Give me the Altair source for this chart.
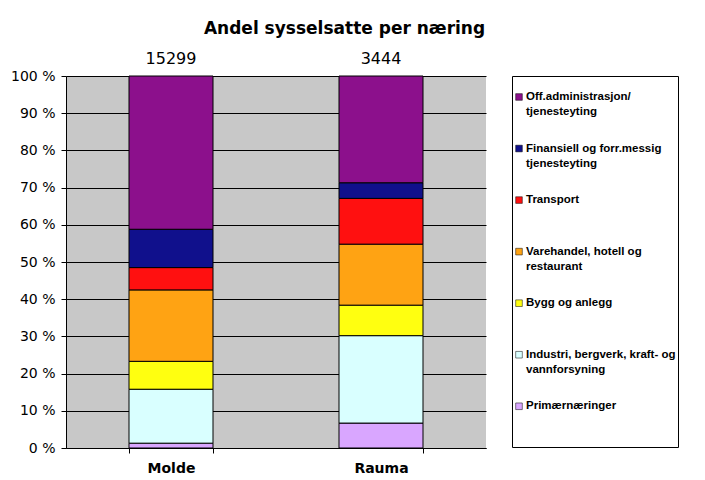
import altair as alt
import pandas as pd

places = ["Molde", "Rauma"]
totals = [15299, 3444]
industries = [
    "Primærnæringer",
    "Industri, bergverk, kraft- og vannforsyning",
    "Bygg og anlegg",
    "Varehandel, hotell og restaurant",
    "Transport",
    "Finansiell og forr.messig tjenesteyting",
    "Off.administrasjon/ tjenesteyting",
]
legend_labels = [
    "Primærnæringer",
    "Industri, bergverk, kraft- og|vannforsyning",
    "Bygg og anlegg",
    "Varehandel, hotell og|restaurant",
    "Transport",
    "Finansiell og forr.messig|tjenesteyting",
    "Off.administrasjon/|tjenesteyting",
]
molde = [1.3, 14.5, 7.5, 19.2, 6.0, 10.3, 41.2]
rauma = [6.7, 23.5, 8.2, 16.4, 12.3, 4.2, 28.7]
colors = ["#D9A6FF", "#D9FFFF", "#FFFF10", "#FFA313", "#FF1010", "#10108C", "#8C108C"]
y_ticks = [0, 10, 20, 30, 40, 50, 60, 70, 80, 90, 100]

rows = []
for place, vals in zip(places, [molde, rauma]):
    for k, (ind, v) in enumerate(zip(industries, vals)):
        rows.append({"place": place, "industry": ind, "k": k, "value": v})
df = pd.DataFrame(rows)

tot_df = pd.DataFrame({"place": places, "total": totals, "top": [100, 100]})

x_axis = alt.Axis(
    title=None, labelAngle=0, labelFont="DejaVu Sans", labelFontWeight="bold",
    labelFontSize=14, labelColor="black", tickBand="extent", ticks=True,
    tickSize=5, tickColor="black", domainColor="black", labelPadding=8,
    grid=False,
)
x_scale = alt.Scale(paddingInner=0.6, paddingOuter=0.3)

y_axis = alt.Axis(
    title=None, values=y_ticks, tickCount=20, labelOverlap=False,
    labelExpr="datum.value + ' %'",
    labelFont="DejaVu Sans", labelFontSize=14, labelColor="black",
    tickSize=5, tickColor="black", domainColor="black",
    labelPadding=6, grid=True, gridColor="black", gridOpacity=1,
    gridWidth=1,
)
y_scale = alt.Scale(domain=[0, 100], nice=False)

bars = alt.Chart(df).mark_bar(stroke="black", strokeWidth=1).encode(
    x=alt.X("place:N", sort=places, scale=x_scale, axis=x_axis),
    y=alt.Y("value:Q", stack="zero", scale=y_scale, axis=y_axis),
    color=alt.Color("industry:N", scale=alt.Scale(domain=industries, range=colors), legend=None),
    order=alt.Order("k:Q"),
)

tot_text = alt.Chart(tot_df).mark_text(
    dy=-17, fontSize=16, font="DejaVu Sans", color="black"
).encode(
    x=alt.X("place:N", sort=places, scale=x_scale, axis=x_axis),
    y=alt.Y("top:Q", scale=y_scale, axis=y_axis),
    text=alt.Text("total:Q", format="d"),
)

main = alt.layer(bars, tot_text).properties(
    width=420, height=372,
    view=alt.ViewBackground(fill="#C8C8C8", stroke=None),
)

leg_df = pd.DataFrame({
    "industry": industries[::-1],
    "label": legend_labels[::-1],
    "pos": list(range(len(industries))),
})

leg_y = alt.Y("pos:Q", scale=alt.Scale(domain=[-0.407, 6.79], reverse=True, nice=False, zero=False), axis=None)

leg_sym = alt.Chart(leg_df).mark_square(size=44, stroke="black", strokeWidth=0.5, opacity=1).encode(
    x=alt.value(7),
    y=leg_y,
    color=alt.Color("industry:N", scale=alt.Scale(domain=industries, range=colors), legend=None),
)
leg_txt = alt.Chart(leg_df).mark_text(
    align="left", baseline="top", dy=-6, lineBreak="|", font="Arial",
    fontWeight="bold", fontSize=11.5, lineHeight=15, color="black",
).encode(
    x=alt.value(14),
    y=leg_y,
    text="label:N",
)
legend = alt.layer(leg_sym, leg_txt).properties(
    width=166, height=371,
    view=alt.ViewBackground(fill="white", stroke="black", strokeWidth=1),
)

chart = alt.hconcat(main, legend, spacing=26, bounds="flush").properties(
    title=alt.TitleParams(
        "Andel sysselsatte per næring", font="DejaVu Sans", fontSize=17,
        fontWeight="bold", color="black", anchor="middle", dx=0, offset=13,
    ),
    padding={"left": 2, "top": 12, "right": 5, "bottom": 0},
).configure(background="white")

chart.save("out.html", embed_options={"renderer": "svg", "actions": False})
